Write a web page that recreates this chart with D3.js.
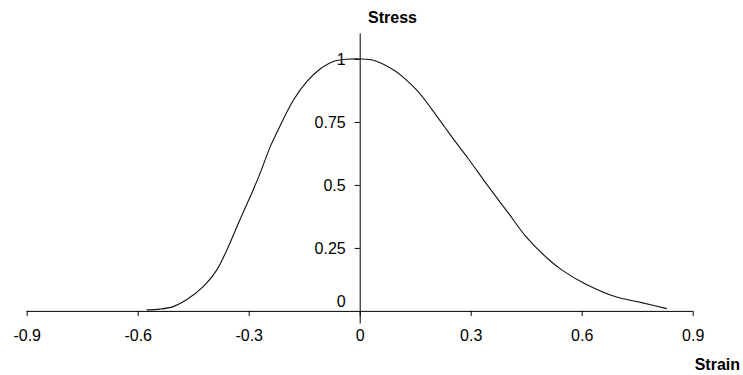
<!DOCTYPE html>
<html>
<head>
<meta charset="utf-8">
<script src="https://cdn.jsdelivr.net/npm/d3@7"></script>
<style>
  html, body { margin: 0; padding: 0; background: #fff; }
  svg { display: block; font-family: "Liberation Sans", Arial, sans-serif; }
</style>
</head>
<body>
<svg id="chart" width="743" height="375"></svg>
<script>
// Stress–strain curve samples
const strain = [-0.576, -0.540, -0.504, -0.468, -0.423, -0.386, -0.359, -0.324, -0.288, -0.269,
                -0.242, -0.215, -0.179, -0.143, -0.107, -0.071, -0.035, 0.000,
                 0.041, 0.095, 0.122, 0.158, 0.195, 0.231, 0.253, 0.294, 0.348, 0.402,
                 0.447, 0.510, 0.546, 0.609, 0.690, 0.762, 0.830];
const stress = [0.004, 0.007, 0.017, 0.044, 0.096, 0.163, 0.242, 0.361, 0.480, 0.547,
                0.651, 0.735, 0.837, 0.910, 0.960, 0.990, 0.999, 1.000,
                0.993, 0.953, 0.922, 0.870, 0.800, 0.727, 0.683, 0.603, 0.493, 0.388,
                0.299, 0.205, 0.163, 0.108, 0.057, 0.033, 0.009];

const xTicks = [-0.9, -0.6, -0.3, 0, 0.3, 0.6, 0.9];
const xTickLabels = ["-0.9", "-0.6", "-0.3", "0", "0.3", "0.6", "0.9"];
const yTicks = [0, 0.25, 0.5, 0.75, 1];
const yTickLabels = ["0", "0.25", "0.5", "0.75", "1"];

const svg = d3.select("#chart");

const x = d3.scaleLinear().domain([-0.9, 0.9]).range([26.7, 692.7]);
const y = d3.scaleLinear().domain([-0.048, 1.103]).range([323, 33]);

const points = strain.map((s, i) => [s, stress[i]]);

// Horizontal (strain) axis, crossing at stress = 0
const xAxis = svg.append("g")
  .attr("transform", `translate(0,${y(0)})`)
  .call(d3.axisBottom(x)
    .tickValues(xTicks)
    .tickSize(5)
    .tickSizeOuter(0)
    .tickPadding(14)
    .tickFormat((d, i) => xTickLabels[i]));
xAxis.select(".domain").attr("d", `M${x(-0.9)},0.5H${x(0.9)}`);
xAxis.selectAll(".tick text").attr("font-size", 16).attr("fill", "#000")
  .attr("font-family", "Liberation Sans, Arial, sans-serif");
xAxis.selectAll("line, path").attr("stroke", "#000");

// Vertical (stress) axis, crossing at strain = 0
const yAxis = svg.append("g")
  .attr("transform", `translate(${x(0)},0)`)
  .call(d3.axisLeft(y)
    .tickValues(yTicks)
    .tickSize(5)
    .tickSizeOuter(0)
    .tickPadding(9)
    .tickFormat((d, i) => yTickLabels[i]));
yAxis.selectAll(".tick text").attr("font-size", 16).attr("fill", "#000")
  .attr("font-family", "Liberation Sans, Arial, sans-serif");
yAxis.selectAll("line, path").attr("stroke", "#000");
// zero label sits above the horizontal axis, no tick mark of its own
yAxis.selectAll(".tick").filter(d => d === 0)
  .call(g => g.select("line").remove())
  .select("text").attr("dy", "-0.3em");

// Curve
const line = d3.line()
  .x(d => x(d[0]))
  .y(d => y(d[1]))
  .curve(d3.curveCatmullRom.alpha(0.5));

svg.append("path")
  .datum(points)
  .attr("fill", "none")
  .attr("stroke", "#111")
  .attr("stroke-width", 1.1)
  .attr("d", line);

// Axis titles
svg.append("text")
  .attr("x", 392.5).attr("y", 23)
  .attr("text-anchor", "middle")
  .attr("font-size", 16).attr("font-weight", "bold")
  .text("Stress");

svg.append("text")
  .attr("x", 740).attr("y", 370)
  .attr("text-anchor", "end")
  .attr("font-size", 16).attr("font-weight", "bold")
  .text("Strain");
</script>
</body>
</html>
